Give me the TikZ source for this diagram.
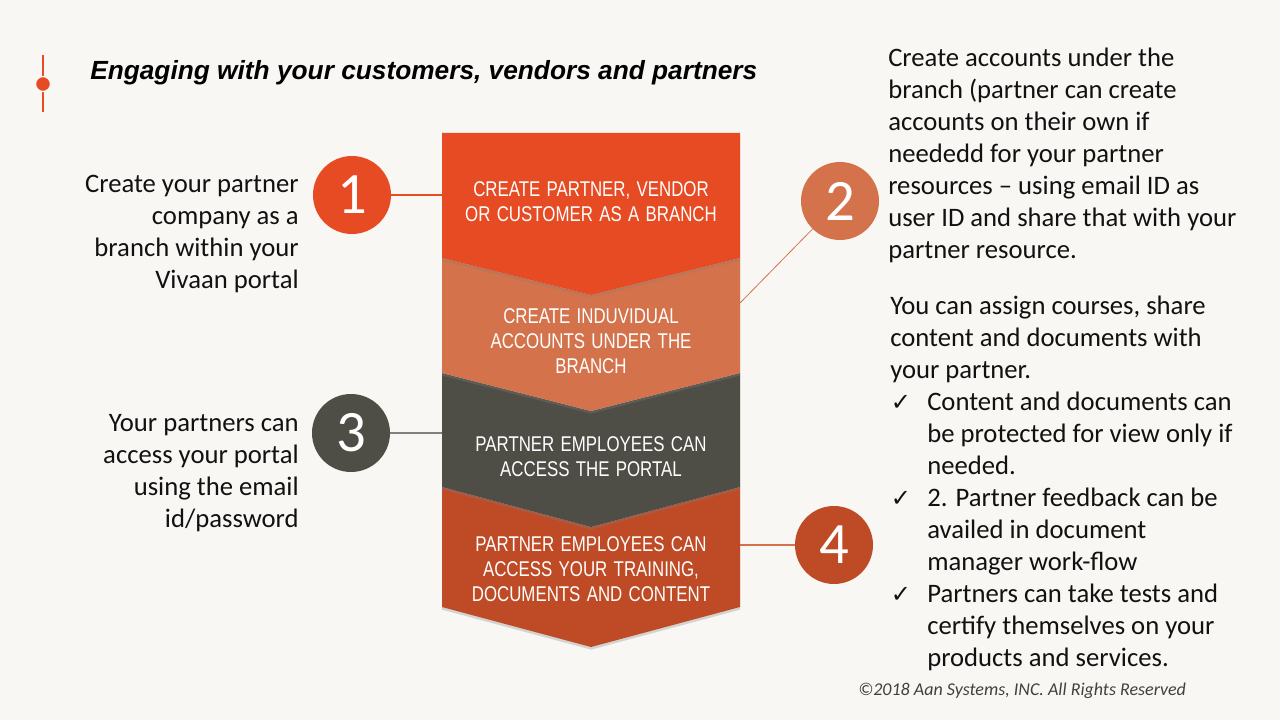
\documentclass[tikz,border=0pt]{standalone}
\usepackage{fontspec}
\setmainfont{Carlito}
\newfontfamily\titlefont{Liberation Sans}
\newfontfamily\chevfont{Liberation Sans}[FakeStretch=0.79, WordSpace=1.35]
\newfontfamily\symfont{DejaVu Sans}
\usetikzlibrary{shadows}

\definecolor{bgpaper}{HTML}{F8F7F4}
\definecolor{chevA}{HTML}{E64B23}
\definecolor{chevB}{HTML}{D4734B}
\definecolor{chevC}{HTML}{4E4D46}
\definecolor{chevD}{HTML}{BE4A26}
\definecolor{bodytext}{HTML}{111111}

\newcommand\ck{\makebox[27.75pt][l]{\hspace{0.5pt}{\symfont\bfseries\fontsize{18}{18}\selectfont ✓}}}
\newcommand\ind{\hspace*{27.75pt}}

\begin{document}
\begin{tikzpicture}[x=0.75pt, y=-0.75pt,
        chev/.style     = {drop shadow={shadow xshift=0pt, shadow yshift=-2pt, opacity=0.3}},
        chevtext/.style = {anchor=north, align=center, text=white, inner sep=0pt,
                           font=\chevfont\fontsize{16}{18.75}\selectfont},
        numcirc/.style  = {circle, minimum size=58.5pt, inner sep=0pt, text=white,
                           font=\fontsize{44}{44}\selectfont},
        sidetext/.style = {inner sep=0pt, text=bodytext, font=\fontsize{20}{24}\selectfont},
        link/.style     = {line width=0.9pt}
    ]
        \useasboundingbox (0,0) rectangle (1280,720);
        \fill[bgpaper] (0,0) rectangle (1280,720);

        % title with the small marker
        \draw[chevA, line width=2pt] (43,55) -- (43,112);
        \fill[chevA, draw=bgpaper, line width=1pt] (43,84) circle (7.5);
        \node[anchor=north west, inner sep=0pt,
              font=\titlefont\bfseries\itshape\fontsize{19.7}{24}\selectfont] (title) at (90,60)
              {Engaging with your customers, vendors and partners};

        % chevrons, bottom one first
        \fill[chevD, chev] (442,487) -- (591,527) -- (740,487) -- (740,607) -- (591,647) -- (442,607) -- cycle;
        \fill[chevC, chev] (442,373) -- (591,411) -- (740,373) -- (740,487) -- (591,527) -- (442,487) -- cycle;
        \fill[chevB, chev] (442,258) -- (591,295) -- (740,258) -- (740,373) -- (591,411) -- (442,373) -- cycle;
        \fill[chevA, chev] (442,133) -- (740,133) -- (740,258) -- (591,295) -- (442,258) -- cycle;

        \node[chevtext] (s1) at (591,181) {CREATE PARTNER, VENDOR\\OR CUSTOMER AS A BRANCH};
        \node[chevtext] (s2) at (591,308) {CREATE INDUVIDUAL\\ACCOUNTS UNDER THE\\BRANCH};
        \node[chevtext] (s3) at (591,436) {PARTNER EMPLOYEES CAN\\ACCESS THE PORTAL};
        \node[chevtext] (s4) at (591,536) {PARTNER EMPLOYEES CAN\\ACCESS YOUR TRAINING,\\DOCUMENTS AND CONTENT};

        % numbered circles
        \node[numcirc, fill=chevA] (n1) at (352,195) {1};
        \node[numcirc, fill=chevB] (n2) at (840,201) {2};
        \node[numcirc, fill=chevC] (n3) at (351,433) {3};
        \node[numcirc, fill=chevD] (n4) at (834,545) {4};

        \coordinate (e1) at (442,195);
        \coordinate (e2) at (740,303);
        \coordinate (e3) at (442,433);
        \coordinate (e4) at (740,545);
        \draw[link, chevA] (n1) -- (e1);
        \draw[link, chevB, line width=0.6pt] (n2) -- (e2);
        \draw[link, gray] (n3) -- (e3);
        \draw[link, chevB] (e4) -- (n4);

        % side texts
        \node[sidetext, anchor=north east, align=right] (t1) at (299,175)
            {Create your partner\\company as a\\branch within your\\Vivaan portal};
        \node[sidetext, anchor=north east, align=right] (t3) at (299,414)
            {Your partners can\\access your portal\\using the email\\id/password};
        \node[sidetext, anchor=north west, align=left] (t2) at (888,48)
            {Create accounts under the\\branch (partner can create\\accounts on their own if\\neededd for your partner\\resources -- using email ID as\\user ID and share that with your\\partner resource.};
        \node[sidetext, anchor=north west, align=left] (t4) at (890,296)
            {You can assign courses, share\\content and documents with\\your partner.\\
             \ck Content and documents can\\\ind be protected for view only if\\\ind needed.\\
             \ck 2. Partner feedback can be\\\ind availed in document\\\ind manager work-flow\\
             \ck Partners can take tests and\\\ind certify themselves on your\\\ind products and services.};

        \node[anchor=north west, inner sep=0pt, text=darkgray,
              font=\itshape\fontsize{13.5}{16}\selectfont] (foot) at (858,683)
              {©2018 Aan Systems, INC. All Rights Reserved};
    \end{tikzpicture}
\end{document}
